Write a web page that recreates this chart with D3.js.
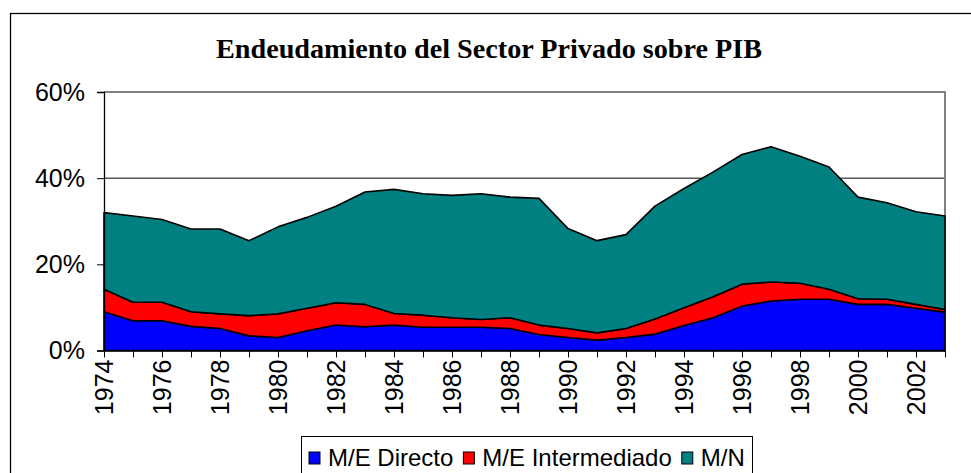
<!DOCTYPE html>
<html>
<head>
<meta charset="utf-8">
<script src="https://cdn.jsdelivr.net/npm/d3@7"></script>
<style>
  html, body { margin: 0; padding: 0; background: #fff; }
  svg { display: block; }
</style>
</head>
<body>
<div id="chart"></div>
<script>
const years = d3.range(1974, 2004);
const seriesNames = ["M/E Directo", "M/E Intermediado", "M/N"];
const seriesColors = ["#0000ff", "#ff0000", "#008080"];

// shares of GDP (%)
const meDirecto = [9.0, 6.9, 6.9, 5.6, 5.1, 3.4, 3.0, 4.6, 5.9, 5.5, 5.9, 5.4, 5.4, 5.4, 5.1,
  3.7, 3.0, 2.4, 3.0, 3.8, 5.8, 7.6, 10.3, 11.5, 11.9, 11.9, 10.7, 10.7, 9.8, 8.9];
const meIntermediado = [5.2, 4.3, 4.3, 3.4, 3.4, 4.7, 5.5, 5.2, 5.2, 5.2, 2.7, 2.8, 2.2, 1.8, 2.5,
  2.2, 2.1, 1.7, 2.1, 3.5, 4.1, 4.9, 5.1, 4.4, 3.7, 2.3, 1.3, 1.2, 0.9, 0.6];
const mn = [17.8, 20.0, 19.2, 19.2, 19.7, 17.4, 20.2, 21.1, 22.4, 26.1, 28.8, 28.2, 28.4, 29.2, 28.0,
  29.4, 23.2, 21.4, 21.8, 26.2, 27.7, 28.9, 30.1, 31.4, 29.5, 28.4, 23.6, 22.4, 21.5, 21.7];
const yTicks = [0, 20, 40, 60];

const w = 971, h = 473;
const plot = { left: 104, right: 945, top: 92, bottom: 350.5 };

const svg = d3.select("#chart").append("svg")
  .attr("width", w)
  .attr("height", h);

// outer frame
svg.append("rect")
  .attr("x", 10.5).attr("y", 13.5)
  .attr("width", 1000).attr("height", 500)
  .attr("fill", "#fff")
  .attr("stroke", "#000")
  .attr("stroke-width", 1.3);

svg.append("text")
  .attr("x", 489).attr("y", 58)
  .attr("text-anchor", "middle")
  .attr("textLength", 546)
  .attr("lengthAdjust", "spacingAndGlyphs")
  .style("font-family", "'Liberation Serif', 'Times New Roman', serif")
  .style("font-weight", "bold")
  .style("font-size", "28px")
  .text("Endeudamiento del Sector Privado sobre PIB");

const rows = years.map((yr, i) => ({
  year: yr,
  "M/E Directo": meDirecto[i],
  "M/E Intermediado": meIntermediado[i],
  "M/N": mn[i],
}));

const x = d3.scalePoint().domain(years).range([plot.left, plot.right]);
const y = d3.scaleLinear().domain([0, 60]).range([plot.bottom, plot.top]);

// grid lines sit behind the areas
svg.append("g")
  .selectAll("line")
  .data(yTicks.filter((d) => d > 0 && d < 60))
  .enter()
  .append("line")
  .attr("x1", plot.left).attr("x2", plot.right)
  .attr("y1", (d) => y(d)).attr("y2", (d) => y(d))
  .attr("stroke", "#000")
  .attr("stroke-width", 1);

// plot border (top and right, grey)
svg.append("path")
  .attr("d", `M${plot.left},${plot.top}H${plot.right}V${plot.bottom}`)
  .attr("fill", "none")
  .attr("stroke", "#808080")
  .attr("stroke-width", 2);

const layers = d3.stack().keys(seriesNames)(rows);

const area = d3.area()
  .x((d) => x(d.data.year))
  .y0((d) => y(d[0]))
  .y1((d) => y(d[1]));

svg.append("g")
  .selectAll("path")
  .data(layers)
  .enter()
  .append("path")
  .attr("d", area)
  .attr("fill", (d, i) => seriesColors[i])
  .attr("stroke", "#000")
  .attr("stroke-width", 1.6)
  .attr("stroke-linejoin", "round");

const axisFont = (sel) => sel.selectAll("text")
  .style("font-family", "'Liberation Sans', Arial, sans-serif")
  .style("font-size", "25px")
  .attr("fill", "#000");

const yAxis = svg.append("g")
  .attr("transform", `translate(${plot.left},0)`)
  .call(d3.axisLeft(y).tickValues(yTicks).tickFormat((d) => d + "%").tickSize(7).tickPadding(12));
yAxis.select(".domain").attr("stroke", "#000").attr("stroke-width", 1.3);
yAxis.selectAll(".tick line").attr("stroke", "#000");
axisFont(yAxis);

const xAxis = svg.append("g")
  .attr("transform", `translate(0,${plot.bottom})`)
  .call(d3.axisBottom(x).tickValues(years)
    .tickFormat((d) => (d % 2 === 0 ? d : ""))
    .tickSize(7).tickSizeOuter(0));
xAxis.select(".domain").attr("stroke", "#000").attr("stroke-width", 1.3);
xAxis.selectAll(".tick line").attr("stroke", "#000");
axisFont(xAxis);
xAxis.selectAll(".tick text")
  .attr("text-anchor", "end")
  .attr("transform", "rotate(-90)")
  .attr("x", -9)
  .attr("y", 0)
  .attr("dy", "0.35em");

// legend
const legend = svg.append("g");
legend.append("rect")
  .attr("x", 301.5).attr("y", 436.5)
  .attr("width", 451).attr("height", 60)
  .attr("fill", "#fff")
  .attr("stroke", "#000")
  .attr("stroke-width", 1);

let lx = 309;
seriesNames.forEach((name, i) => {
  legend.append("rect")
    .attr("x", lx).attr("y", 452)
    .attr("width", 11).attr("height", 12)
    .attr("fill", seriesColors[i])
    .attr("stroke", "#000")
    .attr("stroke-width", 1);
  const t = legend.append("text")
    .attr("x", lx + 19).attr("y", 466)
    .style("font-family", "'Liberation Sans', Arial, sans-serif")
    .style("font-size", "24px")
    .text(name);
  lx += 19 + t.node().getComputedTextLength() + 10;
});
</script>
</body>
</html>
